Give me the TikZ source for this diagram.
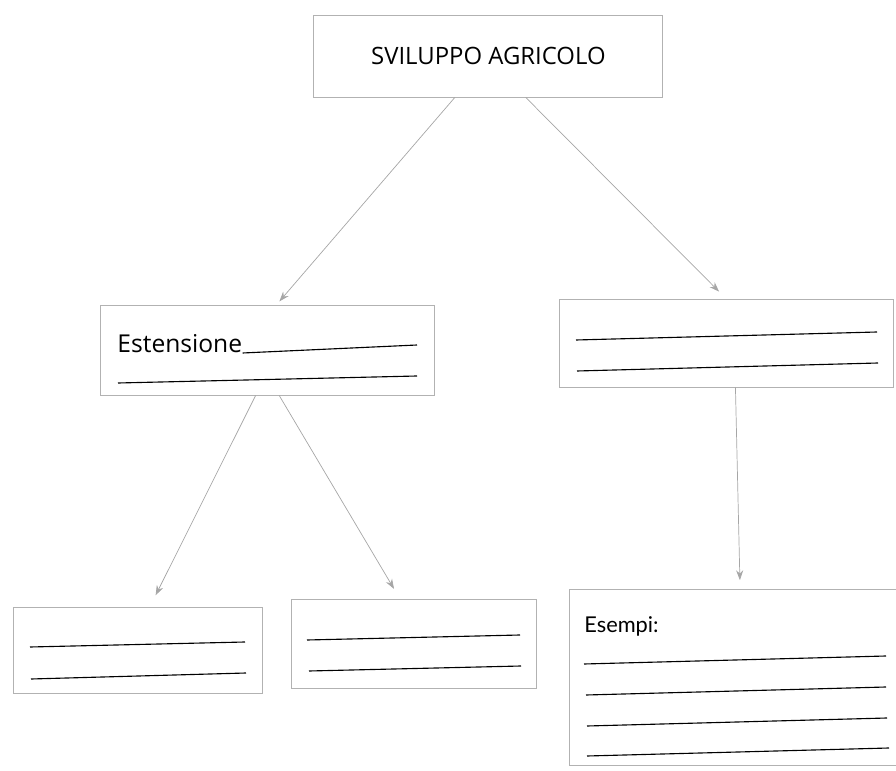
\documentclass[tikz,border=0pt]{standalone}
\usepackage{fontspec}
\usepackage{tikz}
\usetikzlibrary{arrows.meta}
\newfontfamily\handfont{Open Sans}
\newfontfamily\gillfont{Lato}

\begin{document}
\begin{tikzpicture}[every node/.style={rectangle, draw=gray!60, line width=.6pt, inner sep=0pt},
  riga/.style={black, line width=.8pt},
  freccia/.style={gray!70, line width=.5pt, -{Stealth[length=7pt, width=5pt]}}]
  \useasboundingbox (0cm, 0cm) rectangle (22.4cm, 19.25cm);
  \node (agri) [minimum width=8.725cm, minimum height=2.05cm] at (12.21cm, 17.85cm) {\handfont\fontsize{17}{19}\selectfont SVILUPPO AGRICOLO};
  \node (est) [minimum width=8.35cm, minimum height=2.25cm] at (6.675cm, 10.5cm) {};
  \node (dx) [minimum width=8.35cm, minimum height=2.2cm] at (18.15cm, 10.675cm) {};
  \node (sx) [minimum width=6.225cm, minimum height=2.15cm] at (3.4375cm, 3cm) {};
  \node (cen) [minimum width=6.125cm, minimum height=2.225cm] at (10.3375cm, 3.1625cm) {};
  \node (esempi) [minimum width=8.4cm, minimum height=4.4cm] at (18.425cm, 2.325cm) {};
  \node (esttxt) [draw=none, anchor=base west] at (2.925cm, 10.425cm) {\handfont\fontsize{17.5}{19}\selectfont Estensione};
  \node (esetxt) [draw=none, anchor=base west] at (14.6cm, 3.425cm) {\gillfont\fontsize{15.5}{18}\selectfont Esempi:};
  % righe da riempire
  \draw [riga] (esttxt.base east) -- (10.425cm, 10.625cm);
  \draw [riga] (2.95cm, 9.675cm) -- (10.425cm, 9.85cm);
  \draw [riga] (14.4cm, 10.75cm) -- (21.925cm, 10.95cm);
  \draw [riga] (14.425cm, 9.975cm) -- (21.95cm, 10.175cm);
  \draw [riga] (.75cm, 3.075cm) -- (6.125cm, 3.2cm);
  \draw [riga] (.775cm, 2.275cm) -- (6.15cm, 2.425cm);
  \draw [riga] (7.675cm, 3.25cm) -- (13cm, 3.375cm);
  \draw [riga] (7.725cm, 2.475cm) -- (13.025cm, 2.6cm);
  \draw [riga] (14.6cm, 2.65cm) -- (22.15cm, 2.85cm);
  \draw [riga] (14.65cm, 1.875cm) -- (22.15cm, 2.075cm);
  \draw [riga] (14.675cm, 1.1cm) -- (22.175cm, 1.3cm);
  \draw [riga] (14.675cm, .35cm) -- (22.225cm, .55cm);
  % frecce
  \draw [freccia, shorten >=3pt] (agri.231) -- (est.78);
  \draw [freccia, shorten >=7pt] (agri.312) -- (dx.north);
  \draw [freccia, shorten >=9pt] (est.256) -- (sx.74);
  \draw [freccia, shorten >=8pt] (est.285) -- (cen.107);
  \draw [freccia, shorten >=6pt] (dx.282) -- (esempi.88);
\end{tikzpicture}
\end{document}
